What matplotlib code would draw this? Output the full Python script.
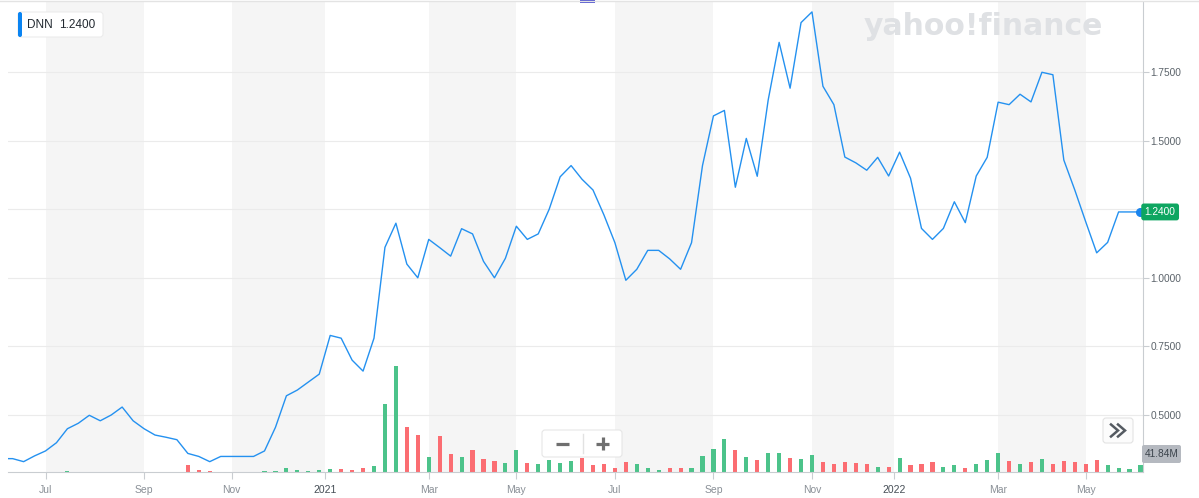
import numpy as np
import matplotlib
matplotlib.use('Agg')
import matplotlib.pyplot as plt
from matplotlib.patches import FancyBboxPatch, Rectangle
from matplotlib.transforms import blended_transform_factory

plt.rcParams['font.family'] = ['Liberation Sans', 'DejaVu Sans']

# DNN weekly closes, roughly Jun 2020 .. Jun 2022 (one value per week)
close = [0.341, 0.341, 0.330, 0.351, 0.369, 0.399, 0.450, 0.470, 0.499, 0.479,
         0.500, 0.529, 0.479, 0.450, 0.427, 0.419, 0.410, 0.360, 0.349, 0.330,
         0.349, 0.349, 0.349, 0.349, 0.369, 0.455, 0.570, 0.591, 0.620, 0.649,
         0.790, 0.780, 0.700, 0.660, 0.780, 1.111, 1.199, 1.050, 1.000, 1.140,
         1.110, 1.079, 1.179, 1.160, 1.060, 1.000, 1.071, 1.188, 1.140, 1.160,
         1.250, 1.368, 1.409, 1.359, 1.320, 1.229, 1.128, 0.991, 1.031, 1.100,
         1.100, 1.069, 1.031, 1.128, 1.409, 1.590, 1.610, 1.330, 1.508, 1.370,
         1.648, 1.858, 1.691, 1.930, 1.969, 1.698, 1.631, 1.440, 1.419, 1.392,
         1.439, 1.371, 1.458, 1.363, 1.180, 1.140, 1.180, 1.277, 1.201, 1.371,
         1.439, 1.640, 1.631, 1.669, 1.641, 1.749, 1.740, 1.429, 1.320, 1.204,
         1.091, 1.129, 1.240, 1.240, 1.240]

# weekly volume, millions
volume = [2, 0, 2, 2, 2, 2, 7, 2, 2, 2,
          2, 2, 2, 2, 2, 2, 2, 42, 13, 7,
          2, 2, 2, 2, 7, 7, 23, 13, 7, 11,
          19, 19, 11, 25, 36, 390, 607, 260, 214, 88,
          208, 105, 88, 128, 76, 65, 53, 128, 53, 48,
          70, 53, 65, 82, 42, 48, 25, 59, 48, 25,
          13, 25, 25, 25, 93, 134, 191, 128, 88, 70,
          111, 111, 82, 76, 99, 59, 48, 59, 53, 48,
          30, 30, 82, 42, 48, 59, 30, 42, 25, 48,
          70, 111, 65, 48, 59, 76, 48, 65, 59, 48,
          70, 42, 25, 19, 41.84]

# G = up week, R = down week
vol_dir = list("GGRGRGGGRG" "GRGRRRRRRR" "RGRGGGGGGG" "GRRRGGGRRG" "RRGRRRGGRG"
               "GGGRRRRRGG" "GRRGGGGRGR" "GGRGGRRRRR" "GRGRRRGGRG" "GGRGRGRRRR"
               "RGGGG")

month_labels = ['Jul', 'Sep', 'Nov', '2021', 'Mar', 'May',
                'Jul', 'Sep', 'Nov', '2022', 'Mar', 'May']
month_pos = [4, 13, 21, 29.5, 39, 47, 56, 65, 74, 81.5, 91, 99]
price_ticks = [0.5, 0.75, 1.0, 1.25, 1.5, 1.75]

W, H = 1199, 498
fig = plt.figure(figsize=(W / 100, H / 100), dpi=100)
ax = fig.add_axes([8 / W, 26 / H, 1135 / W, 470 / H])
ax2 = ax.twinx()

x = np.arange(len(close))
ax.set_xlim(0.575, 104.23)
ax.set_ylim(0, 2694)
ax2.set_ylim(0.2923, 2.0051)

# shaded month pairs
for a, b in zip(month_pos[0::2], month_pos[1::2]):
    ax.axvspan(a, b, color='#f5f5f5', lw=0, zorder=0)

trans = blended_transform_factory(ax.transAxes, ax2.transData)
for v in price_ticks:
    ax.plot([0, 1], [v, v], transform=trans, color='#ebebeb', lw=0.8, zorder=1)

cols = ['#4cc38a' if d == 'G' else '#fb6d72' for d in vol_dir]
ax.bar(x, volume, width=0.38, color=cols, zorder=2)

ax2.plot(x, close, color='#2491f0', lw=1.0, zorder=3)
ax2.plot(x[-1], close[-1], 'o', ms=5.5, color='#1a84ee', clip_on=False, zorder=4)

# axes styling
ax.yaxis.set_visible(False)
for s in ['top', 'left', 'right']:
    ax.spines[s].set_visible(False)
    ax2.spines[s if s != 'right' else 'bottom'].set_visible(False)
ax.spines['bottom'].set_color('#c9cdd1')
ax2.spines['right'].set_color('#c9cdd1')

ax.set_xticks(month_pos, labels=month_labels)
ax.tick_params(axis='x', length=5, color='#c9cdd1', labelsize=7.5,
               labelcolor='#8a9097', pad=4)
for t in ax.get_xticklabels():
    if t.get_text().startswith('20'):
        t.set_color('#464e56')

# the 1.25 label sits under the live price tag, so leave it blank
last = close[-1]
ylabels = ['' if abs(v - last) < 0.04 else '%.4f' % v for v in price_ticks]
ax2.set_yticks(price_ticks, labels=ylabels)
ax2.tick_params(axis='y', length=4, color='#c9cdd1', labelsize=7.3,
                labelcolor='#5b636a', pad=1.5)

# current price tag
tag = blended_transform_factory(ax2.transAxes, ax2.transData)
ax2.text(1.0015, last, '%.4f' % last, transform=tag, ha='left', va='center',
         fontsize=7.3, color='white', zorder=5,
         bbox=dict(boxstyle='round,pad=0.34,rounding_size=0.25', fc='#0ea661', ec='none'))

# overlay in pixel coords for chart furniture
ov = fig.add_axes([0, 0, 1, 1], zorder=10)
ov.set_xlim(0, W)
ov.set_ylim(H, 0)
ov.axis('off')
ov.patch.set_visible(False)

ov.plot([0, W], [1, 1], color='#e3e3e3', lw=1)
ov.add_patch(Rectangle((580, 0), 15, 3, color='#4b4fcf', lw=0))

# legend chip
ov.add_patch(FancyBboxPatch((18, 12), 85, 25, boxstyle='round,pad=0,rounding_size=3',
                            fc='white', ec='#ececec', lw=0.8))
ov.add_patch(FancyBboxPatch((18, 12), 4, 25, boxstyle='round,pad=0,rounding_size=2',
                            fc='#0a84f2', ec='none'))
ov.text(27.5, 25, 'DNN', fontsize=8.5, color='#232a31', va='center', ha='left')
ov.text(59, 25, '%.4f' % last, fontsize=8.5, color='#232a31', va='center', ha='left')

# watermark
ov.text(864, 35, 'yahoo!finance', fontsize=21.5, fontweight='bold', family='DejaVu Sans',
        color='#dfe1e4', ha='left', va='baseline')

# zoom buttons
ov.add_patch(FancyBboxPatch((542, 430), 80, 27, boxstyle='round,pad=0,rounding_size=3',
                            fc='white', ec='#e6e6e6', lw=0.8))
ov.plot([582.5, 582.5], [434, 453], color='#e2e2e2', lw=1)
ov.plot([556, 569], [443.5, 443.5], color='#6f6f6f', lw=2.3, solid_capstyle='butt')
ov.plot([596, 609], [443.5, 443.5], color='#6f6f6f', lw=2.3, solid_capstyle='butt')
ov.plot([602.5, 602.5], [437, 450], color='#6f6f6f', lw=2.3, solid_capstyle='butt')

ov.add_patch(FancyBboxPatch((1103, 418), 30, 25, boxstyle='round,pad=0,rounding_size=3',
                            fc='#fcfcfc', ec='#e3e3e3', lw=0.8))
for dx in (0, 7):
    ov.plot([1111 + dx, 1118 + dx, 1111 + dx], [424.5, 430.5, 436.5], color='#555b62',
            lw=1.8, solid_joinstyle='miter')

# volume tag
ov.add_patch(FancyBboxPatch((1142, 445), 39, 18, boxstyle='round,pad=0,rounding_size=2',
                            fc='#b5b9c0', ec='none'))
ov.text(1161.5, 454, '%.2fM' % volume[-1], fontsize=7.3, color='#3d454d',
        ha='center', va='center')

fig.savefig('out.png', dpi=100)
